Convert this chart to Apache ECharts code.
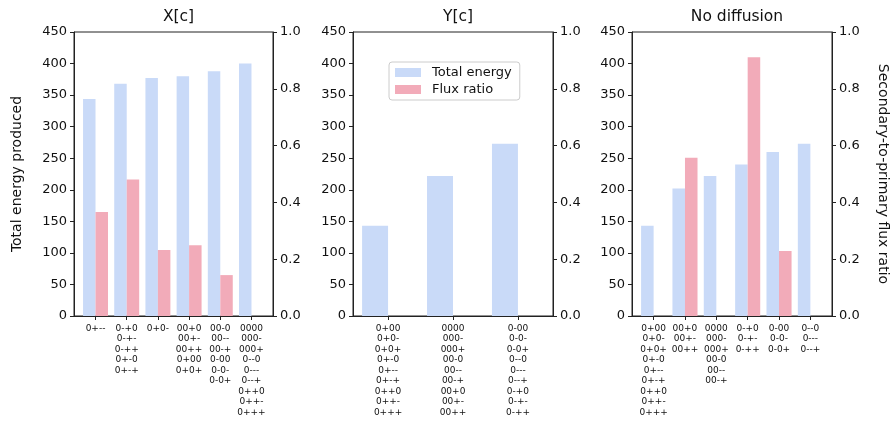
<!DOCTYPE html>
<html>
<head>
<meta charset="utf-8">
<script src="https://cdn.jsdelivr.net/npm/echarts@6/dist/echarts.min.js"></script>
<style>
html,body{margin:0;padding:0;background:#fff;}
#chart{width:896px;height:421px;}
</style>
</head>
<body>
<div id="chart"></div>
<script>
// ---- data ----
const panelTitles = ['X[c]', 'Y[c]', 'No diffusion'];

const xcLabels = ['0+--', '0-+0\n0-+-\n0-++\n0+-0\n0+-+', '0+0-', '00+0\n00+-\n00++\n0+00\n0+0+', '00-0\n00--\n00-+\n0-00\n0-0-\n0-0+', '0000\n000-\n000+\n0--0\n0---\n0--+\n0++0\n0++-\n0+++'];
const xcEnergy = [344, 368, 377, 380, 388, 400];
const xcFlux = [0.366, 0.481, 0.232, 0.249, 0.144, 0];

const ycLabels = ['0+00\n0+0-\n0+0+\n0+-0\n0+--\n0+-+\n0++0\n0++-\n0+++', '0000\n000-\n000+\n00-0\n00--\n00-+\n00+0\n00+-\n00++', '0-00\n0-0-\n0-0+\n0--0\n0---\n0--+\n0-+0\n0-+-\n0-++'];
const ycEnergy = [143, 222, 273];
const ycFlux = [0, 0, 0];

const ndLabels = ['0+00\n0+0-\n0+0+\n0+-0\n0+--\n0+-+\n0++0\n0++-\n0+++', '00+0\n00+-\n00++', '0000\n000-\n000+\n00-0\n00--\n00-+', '0-+0\n0-+-\n0-++', '0-00\n0-0-\n0-0+', '0--0\n0---\n0--+'];
const ndEnergy = [143, 202, 222, 240, 260, 273];
const ndFlux = [0, 0.557, 0, 0.911, 0.229, 0];

const energyTicks = [0, 50, 100, 150, 200, 250, 300, 350, 400, 450];
const fluxTicks = [0.0, 0.2, 0.4, 0.6, 0.8, 1.0];

// ---- layout ----
const FONT = 'DejaVu Sans';
const AX = '#222';
const C_E = '#c9daf8';
const C_F = '#f2abb9';
const panels = [
  {labels: xcLabels, energy: xcEnergy, flux: xcFlux, left: 74, width: 199},
  {labels: ycLabels, energy: ycEnergy, flux: ycFlux, left: 353, width: 200},
  {labels: ndLabels, energy: ndEnergy, flux: ndFlux, left: 632, width: 200}
];
const TOP = 32, H = 284;

const option = {
  animation: false,
  backgroundColor: '#fff',
  textStyle: {fontFamily: FONT},
  title: [], grid: [], xAxis: [], yAxis: [], series: [],
  legend: {
    data: ['Total energy', 'Flux ratio'],
    orient: 'vertical',
    left: 389, top: 62,
    padding: [4, 8, 4, 6],
    itemGap: 4,
    itemWidth: 26, itemHeight: 9,
    icon: 'rect',
    borderColor: '#cccccc', borderWidth: 1, borderRadius: 3,
    backgroundColor: 'rgba(255,255,255,0.8)',
    textStyle: {fontFamily: FONT, fontSize: 13, color: '#111', padding: [0, 0, 0, 6]}
  }
};

panels.forEach((p, gi) => {
  const n = p.labels.length;
  const margin = (n - 1 + 0.8) * 0.05;
  const xmin = -0.4 - margin, xmax = n - 1 + 0.4 + margin;
  const idx = p.labels.map((_, i) => i);
  option.title.push({
    text: panelTitles[gi], left: p.left + p.width / 2, top: 4, textAlign: 'center',
    textStyle: {fontFamily: FONT, fontSize: 15.5, fontWeight: 'normal', color: '#111'}
  });
  option.grid.push({left: p.left, top: TOP, width: p.width, height: H, show: true, borderColor: AX, borderWidth: 1, backgroundColor: 'transparent'});
  option.xAxis.push({
    type: 'value', gridIndex: gi, min: xmin, max: xmax,
    splitLine: {show: false},
    axisLine: {show: true, onZero: false, lineStyle: {color: AX, width: 1}},
    axisTick: {show: true, length: 4, customValues: idx, lineStyle: {color: AX}},
    axisLabel: {
      customValues: idx, margin: 7, fontSize: 9, lineHeight: 10.5, color: '#111', fontFamily: FONT,
      formatter: v => p.labels[Math.round(v)]
    }
  });
  option.yAxis.push({
    type: 'value', gridIndex: gi, position: 'left', min: 0, max: 450, interval: 50,
    splitLine: {show: false},
    axisLine: {show: true, onZero: false, lineStyle: {color: AX, width: 1}},
    axisTick: {show: true, length: 4, lineStyle: {color: AX}},
    axisLabel: {margin: 7, fontSize: 13, color: '#111', fontFamily: FONT,
      formatter: v => energyTicks.indexOf(v) >= 0 ? String(v) : ''},
    name: gi === 0 ? 'Total energy produced' : '',
    nameLocation: 'middle', nameGap: 50, nameRotate: 90,
    nameTextStyle: {fontSize: 14, color: '#111', fontFamily: FONT}
  });
  option.yAxis.push({
    type: 'value', gridIndex: gi, position: 'right', min: 0, max: 1, interval: 0.2,
    splitLine: {show: false},
    axisLine: {show: true, onZero: false, lineStyle: {color: AX, width: 1}},
    axisTick: {show: true, length: 4, lineStyle: {color: AX}},
    axisLabel: {margin: 7, fontSize: 13, color: '#111', fontFamily: FONT,
      formatter: v => fluxTicks.some(t => Math.abs(t - v) < 1e-9) ? v.toFixed(1) : ''},
    name: gi === 2 ? 'Secondary-to-primary flux ratio' : '',
    nameLocation: 'middle', nameGap: 44, nameRotate: -90,
    nameTextStyle: {fontSize: 14, color: '#111', fontFamily: FONT}
  });
  option.series.push({
    name: 'Total energy', type: 'bar', xAxisIndex: gi, yAxisIndex: gi * 2,
    data: p.energy.map((v, i) => [i, v]),
    barWidth: '40%', barGap: '0%',
    itemStyle: {color: C_E}
  });
  option.series.push({
    name: 'Flux ratio', type: 'bar', xAxisIndex: gi, yAxisIndex: gi * 2 + 1,
    data: p.flux.map((v, i) => [i, v]),
    barWidth: '40%', barGap: '0%',
    itemStyle: {color: C_F}
  });
});

const chart = echarts.init(document.getElementById('chart'), null, {renderer: 'canvas'});
chart.setOption(option);
</script>
</body>
</html>
